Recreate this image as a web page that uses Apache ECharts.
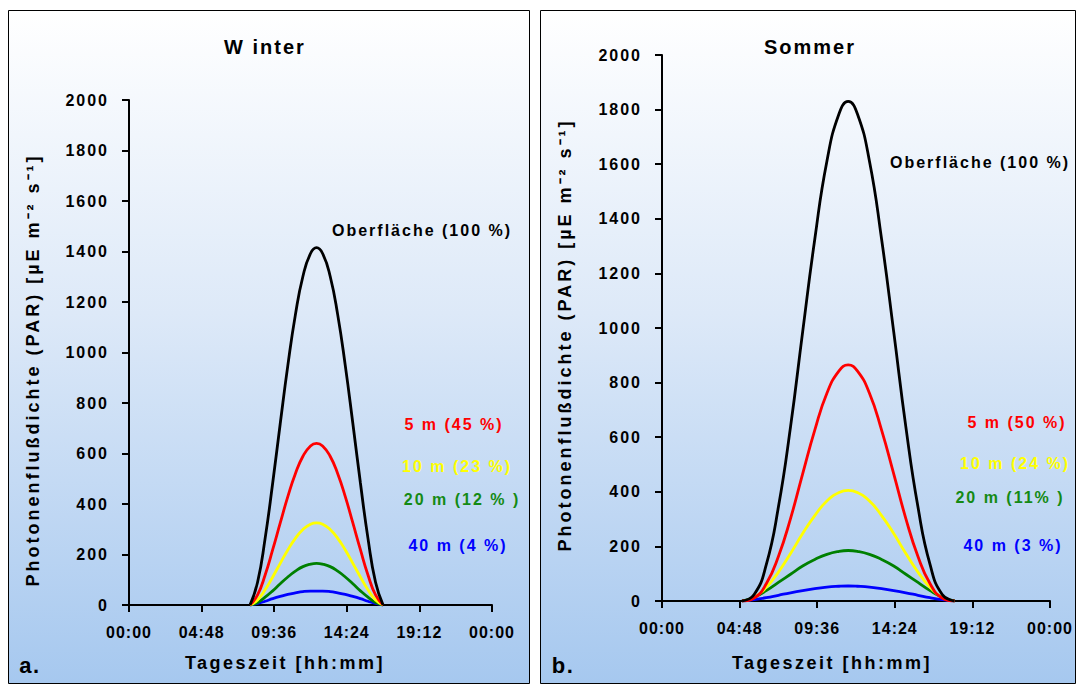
<!DOCTYPE html>
<html>
<head>
<meta charset="utf-8">
<script src="https://cdn.jsdelivr.net/npm/echarts@6/dist/echarts.min.js"></script>
<style>
html,body{margin:0;padding:0;background:#ffffff;}
#c{width:1079px;height:684px;}
#c text{letter-spacing:1.5px;}
</style>
</head>
<body>
<div id="c"></div>
<script>
// ---- data (time in minutes since 00:00, PAR in µE m-2 s-1) ----
const winterTime    = [480,510,540,570,600,630,660,690,720,744,768,798,828,858,888,918,948,978,1008];
const winterSurface = [0,90,264,483,719,948,1149,1302,1392,1415,1392,1302,1149,948,719,483,264,90,0];
const winter5m      = [0,40,119,219,325,429,520,589,630,640,630,589,520,429,325,219,119,40,0];
const winter10m     = [0,20,60,111,165,218,264,299,320,325,320,299,264,218,165,111,60,20,0];
const winter20m     = [0,10,31,56,84,111,134,152,162,165,162,152,134,111,84,56,31,10,0];
const winter40m     = [0,6,15,25,34,42,48,53,55,55,55,53,48,42,34,25,15,6,0];

const summerTime    = [297,342,387,432,477,522,567,612,657,691,725,770,815,860,905,950,995,1040,1086];
const summerSurface = [0,24,133,344,638,986,1325,1611,1785,1830,1785,1611,1325,986,638,344,133,24,0];
const summer5m      = [0,11,63,163,302,466,626,761,843,865,843,761,626,466,302,163,63,11,0];
const summer10m     = [0,13,50,106,174,247,313,366,397,405,397,366,313,247,174,106,50,13,0];
const summer20m     = [0,14,38,68,98,128,152,171,182,185,182,171,152,128,98,68,38,14,0];
const summer40m     = [0,5,12,21,30,38,45,51,54,55,54,51,45,38,30,21,12,5,0];

const xTickLabels = ['00:00','04:48','09:36','14:24','19:12','00:00'];
const xTicks = [0,288,576,864,1152,1440];
const seriesNames = ['Oberfläche (100 %)','5 m','10 m','20 m','40 m'];
const seriesColors = ['#000000','#ff0000','#ffff00','#008000','#0000ff'];
const winterLabels = ['Oberfläche (100 %)','5 m (45 %)','10 m (23 %)','20 m (12 % )','40 m (4 %)'];
const summerLabels = ['Oberfläche (100 %)','5 m (50 %)','10 m (24 %)','20 m (11% )','40 m (3 %)'];
const labelColors = ['#000000','#ff0000','#ffff00','#148a14','#0000ff'];
const yName = 'Photonenflußdichte (PAR) [µE m⁻² s⁻¹]';
const xName = 'Tageszeit [hh:mm]';

function pairs(t, v){ return t.map((x,i)=>[x, v[i]]); }
const font = '"Liberation Sans", Arial, sans-serif';

function xAxis(gi){
  return {
    type:'value', gridIndex:gi, min:0, max:1440, interval:288,
    axisLine:{show:true, lineStyle:{color:'#000', width:2}},
    axisTick:{show:true, length:7, lineStyle:{color:'#000', width:2}},
    splitLine:{show:false},
    axisLabel:{color:'#000', fontFamily:font, fontWeight:'bold', fontSize:16, margin:19,
      formatter:function(v){ const i = xTicks.indexOf(v); return i>=0 ? xTickLabels[i] : ''; }}
  };
}
function yAxis(gi){
  return {
    type:'value', gridIndex:gi, min:0, max:2000, interval:200,
    axisLine:{show:true, lineStyle:{color:'#000', width:2}},
    axisTick:{show:true, length:7, lineStyle:{color:'#000', width:2}},
    splitLine:{show:false},
    axisLabel:{color:'#000', fontFamily:font, fontWeight:'bold', fontSize:16, margin:20,
      formatter:function(v){ return String(v); }}
  };
}
function lines(gi, t, arrs){
  return arrs.map((a,k)=>({
    name: seriesNames[k], type:'line', xAxisIndex:gi, yAxisIndex:gi,
    data: pairs(t,a), smooth:0.5, symbol:'none',
    lineStyle:{color:seriesColors[k], width:2.8}, z: 10-k
  }));
}

function panelBg(x,y,w,h){
  return {type:'rect', shape:{x:x,y:y,width:w,height:h}, z:-10,
    style:{fill:{type:'linear',x:0,y:0,x2:0,y2:1,colorStops:[
      {offset:0,color:'#ffffff'},{offset:0.45,color:'#dde9f8'},{offset:1,color:'#a6c8ef'}]},
      stroke:'#000', lineWidth:1}};
}
function txt(text,x,y,opt){
  return Object.assign({type:'text', x:x, y:y, z:50,
    style:Object.assign({text:text, fill:'#000', font:'bold 16px '+font, textAlign:'center', textVerticalAlign:'middle'}, opt||{})});
}
function rtxt(text,x,y,size){
  return {type:'text', x:x, y:y, rotation:Math.PI/2, z:50,
    style:{text:text, fill:'#000', font:'bold '+size+'px '+font, textAlign:'center', textVerticalAlign:'middle'}};
}

const graphics = [
  panelBg(8.5,10.5,521,673),
  panelBg(540.5,10.5,535,673),
  txt('W inter',265,47,{font:'bold 20px '+font}),
  txt('Sommer',810,47,{font:'bold 20px '+font}),
  txt(xName,285,663,{font:'bold 18px '+font}),
  txt(xName,832,663,{font:'bold 18px '+font}),
  txt('a.',30,665,{font:'bold 22px '+font}),
  txt('b.',563,665,{font:'bold 22px '+font}),
  rtxt(yName,33,370,18),
  rtxt(yName,565,335,18),
  txt(winterLabels[0],422,230,{fill:labelColors[0]}),
  txt(winterLabels[1],454,424,{fill:labelColors[1]}),
  txt(winterLabels[2],457,466,{fill:labelColors[2]}),
  txt(winterLabels[3],462,499,{fill:labelColors[3]}),
  txt(winterLabels[4],458,545,{fill:labelColors[4]}),
  txt(summerLabels[0],980,162,{fill:labelColors[0]}),
  txt(summerLabels[1],1017,422,{fill:labelColors[1]}),
  txt(summerLabels[2],1015,463,{fill:labelColors[2]}),
  txt(summerLabels[3],1010,497,{fill:labelColors[3]}),
  txt(summerLabels[4],1013,545,{fill:labelColors[4]})
];

const chart = echarts.init(document.getElementById('c'), null, {renderer:'svg'});
chart.setOption({
  animation:false,
  backgroundColor:'#ffffff',
  grid:[
    {left:129, top:100, width:363, height:505},
    {left:662, top:55, width:388, height:546}
  ],
  xAxis:[xAxis(0), xAxis(1)],
  yAxis:[yAxis(0), yAxis(1)],
  series:[].concat(
    lines(0, winterTime, [winterSurface,winter5m,winter10m,winter20m,winter40m]),
    lines(1, summerTime, [summerSurface,summer5m,summer10m,summer20m,summer40m])
  ),
  graphic:graphics
});

function applySpacing(){
  document.querySelectorAll('#c svg text').forEach(function(el){
    const s = el.textContent || '';
    let ls = null;
    if (s.indexOf('Photonen') === 0) ls = '3px';
    else if (s === xName) ls = '2.5px';
    else if (s === 'W inter' || s === 'Sommer') ls = '2px';
    else if (winterLabels.indexOf(s) >= 0 || summerLabels.indexOf(s) >= 0) ls = '2px';
    else if (/^\d+$/.test(s)) ls = '2px';
    else if (/^\d\d:\d\d$/.test(s)) ls = '1px';
    if (ls) el.style.letterSpacing = ls;
  });
}
applySpacing();
chart.on('finished', applySpacing);
</script>
</body>
</html>
